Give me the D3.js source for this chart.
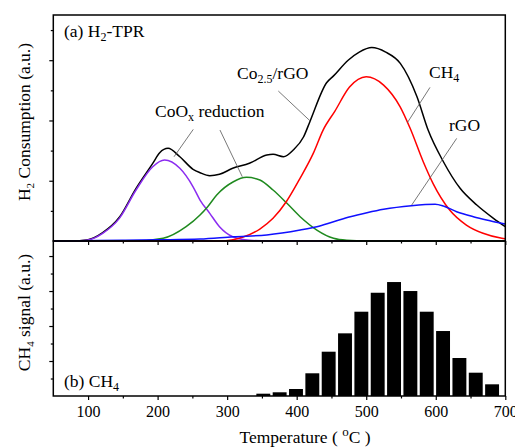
<!DOCTYPE html>
<html>
<head>
<meta charset="utf-8">
<script src="https://cdn.jsdelivr.net/npm/d3@7"></script>
<style>
  body { margin: 0; background: #fff; }
  svg { display: block; font-family: "Liberation Serif", "Times New Roman", serif; }
  .frame { fill: none; stroke: #000; stroke-width: 1.5; }
  .axis path { display: none; }
  .axis line { stroke: #000; stroke-width: 1.2; }
  .curve { fill: none; stroke-width: 1.5; }
  .leader { stroke: #555; stroke-width: 0.8; }
  .lbl { font-size: 17.5px; fill: #000; }
</style>
</head>
<body>
<svg id="chart" width="515" height="448"></svg>
<script>
// H2-TPR profile (a) and its fitted components, [temperature °C, a.u.]
const tprTotal = [[50,0],[88,0.005],[100,0.02],[121,0.138],[145,0.393],[169,0.874],[193,1.289],[203,1.464],
  [215,1.537],[232,1.398],[251,1.189],[261,1.133],[275,1.083],[289,1.106],[308,1.206],[332,1.289],[357,1.426],
  [366,1.438],[381,1.398],[395,1.509],[410,1.73],[419,1.98],[443,2.625],[453,2.74],[474,3.0],[490,3.134],
  [508,3.209],[528,3.134],[549,2.947],[573,2.393],[589,1.841],[611,1.315],[635,0.874],[659,0.597],[683,0.376],[700,0.237]];
const tprCoOx1 = [[50,0],[88,0.005],[100,0.017],[121,0.128],[145,0.376],[169,0.846],[193,1.232],[210,1.343],
  [232,1.206],[251,0.9],[261,0.68],[275,0.459],[289,0.237],[308,0.071],[332,0.012],[360,0],[700,0]];
const tprCoOx2 = [[50,0],[169,0],[208,0.045],[241,0.237],[261,0.431],[272,0.569],[285,0.763],[309,0.983],
  [328,1.056],[347,1.012],[366,0.846],[386,0.625],[405,0.403],[429,0.182],[453,0.045],[472,0.012],[500,0],[700,0]];
const tprCH4 = [[50,0],[290,0],[323,0.066],[347,0.199],[366,0.376],[385,0.652],[405,1.045],[424,1.459],[438,1.841],
  [455,2.156],[476,2.554],[500,2.725],[525,2.587],[549,2.222],[563,1.874],[582,1.315],[596,0.957],[620,0.514],
  [644,0.265],[668,0.128],[695,0.045],[700,0.036]];
const tprRGO = [[50,0],[100,0.005],[150,0.012],[200,0.02],[261,0.033],[309,0.071],[357,0.1],[405,0.182],[429,0.237],
  [453,0.32],[477,0.403],[501,0.469],[525,0.526],[565,0.585],[599,0.609],[611,0.58],[630,0.486],[654,0.403],
  [678,0.337],[700,0.282]];

// CH4 signal (b)
const ch4Temp = [352, 375.5, 399, 422.5, 446, 469.5, 493, 516.5, 540, 563.5, 587, 610.5, 634, 657.5, 681];
const ch4Signal = [0.066, 0.106, 0.2, 0.649, 1.266, 1.791, 2.409, 2.951, 3.257, 3.0, 2.409, 1.857, 1.086, 0.666, 0.334];

const xTicks = [100, 200, 300, 400, 500, 600, 700];
const xMinor = [150, 250, 350, 450, 550, 650];

const svg = d3.select('#chart');
const mLeft = 53.3, mRight = 505.3, mTop = 15, mMid = 241, mBottom = 396;

const x = d3.scaleLinear().domain([50, 700]).range([mLeft, mRight]);
const yTop = d3.scaleLinear().domain([0, 3.75]).range([mMid, mTop]);
const yBot = d3.scaleLinear().domain([0, 4.43]).range([mBottom, mMid]);

// ticks
function xAxis(yPos, labels) {
  svg.append('g').attr('class', 'axis').attr('transform', `translate(0,${yPos})`)
    .call(d3.axisBottom(x).tickValues(xMinor).tickSize(2.5).tickFormat(''));
  let g = svg.append('g').attr('class', 'axis').attr('transform', `translate(0,${yPos})`)
    .call(d3.axisBottom(x).tickValues(xTicks).tickSize(4).tickPadding(6).tickFormat(labels ? d3.format('d') : ''));
  g.attr('font-family', '"Liberation Serif", serif').attr('font-size', 16);
  g.selectAll('text').attr('dy', '0.71em').attr('fill', '#000');
}
xAxis(mMid, false);
xAxis(mBottom, true);

function yAxis(scale, maxV) {
  let majors = d3.range(1, maxV + 0.01, 1);
  let minors = d3.range(0.5, maxV, 1);
  svg.append('g').attr('class', 'axis').attr('transform', `translate(${mLeft},0)`)
    .call(d3.axisLeft(scale).tickValues(majors).tickSize(4).tickFormat(''));
  svg.append('g').attr('class', 'axis').attr('transform', `translate(${mLeft},0)`)
    .call(d3.axisLeft(scale).tickValues(minors).tickSize(2.5).tickFormat(''));
}
yAxis(yTop, 3.75);
yAxis(yBot, 4.43);

// curves (top)
const line = d3.line().x(d => x(d[0])).y(d => yTop(d[1])).curve(d3.curveMonotoneX);
const series = [
  {data: tprTotal, color: '#000000'},
  {data: tprCoOx1, color: '#8b2cf0'},
  {data: tprCoOx2, color: '#1f8a1f'},
  {data: tprCH4, color: '#ff0000'},
  {data: tprRGO, color: '#1010ff'}
];
svg.selectAll('path.curve').data(series).enter().append('path')
  .attr('class', 'curve')
  .attr('stroke', d => d.color)
  .attr('d', d => line(d.data));

// bars (bottom)
const barW = 20;
svg.selectAll('rect.bar').data(ch4Temp).enter().append('rect')
  .attr('class', 'bar')
  .attr('x', t => x(t - barW / 2))
  .attr('width', t => x(t + barW / 2) - x(t - barW / 2))
  .attr('y', (t, i) => yBot(ch4Signal[i]))
  .attr('height', (t, i) => yBot(0) - yBot(ch4Signal[i]))
  .attr('fill', '#000');

// frames
svg.append('rect').attr('class', 'frame').attr('x', mLeft).attr('y', mTop).attr('width', mRight - mLeft).attr('height', mMid - mTop);
svg.append('rect').attr('class', 'frame').attr('x', mLeft).attr('y', mMid).attr('width', mRight - mLeft).attr('height', mBottom - mMid);

// text with subscripts: {s: '..'} parts drop 4px in a smaller size
function richText(t, parts, subSize) {
  let shift = 0;
  parts.forEach(p => {
    if (typeof p === 'object') {
      t.append('tspan').attr('font-size', subSize).attr('dy', 4).text(p.s);
      shift = -4;
    } else {
      let ts = t.append('tspan').text(p);
      if (shift) ts.attr('dy', shift);
      shift = 0;
    }
  });
  return t;
}
function label(parts, px, py) {
  let t = svg.append('text').attr('class', 'lbl').attr('x', px).attr('y', py);
  return richText(t, parts, '12px');
}

const topLabels = [
  {parts: ['(a) H', {s: '2'}, '-TPR'], at: [65.4, 3.383]},
  {parts: ['CoO', {s: 'x'}, ' reduction'], at: [196.2, 2.056]},
  {parts: ['Co', {s: '2.5'}, '/rGO'], at: [314.2, 2.687]},
  {parts: ['CH', {s: '4'}], at: [590.3, 2.698]},
  {parts: ['rGO'], at: [619, 1.824]}
];
topLabels.forEach(l => label(l.parts, x(l.at[0]), yTop(l.at[1])));
label(['(b) CH', {s: '4'}], x(65.4), yBot(0.266));

const leaders = [
  [[251.3, 1.852], [223.6, 1.398]],
  [[289.7, 1.841], [321.8, 1.066]],
  [[373.6, 2.488], [419.1, 1.995]],
  [[591.7, 2.549], [559.1, 1.962]],
  [[630.1, 1.703], [565.4, 0.597]]
];
svg.selectAll('line.leader').data(leaders).enter().append('line')
  .attr('class', 'leader')
  .attr('x1', d => x(d[0][0])).attr('y1', d => yTop(d[0][1]))
  .attr('x2', d => x(d[1][0])).attr('y2', d => yTop(d[1][1]));

// axis titles
const xt = svg.append('text').attr('class', 'lbl').attr('font-size', '19.5px')
  .attr('x', 305).attr('y', 443).attr('text-anchor', 'middle');
xt.append('tspan').text('Temperature ( ');
xt.append('tspan').attr('font-size', '13px').attr('dy', -7).text('o');
xt.append('tspan').attr('dy', 7).text('C )');

const yt1 = svg.append('text').attr('class', 'lbl').attr('font-size', '17px')
  .attr('transform', `translate(30,122) rotate(-90)`).attr('text-anchor', 'middle');
richText(yt1, ['H', {s: '2'}, ' Consumption (a.u.)'], '11px');

const yt2 = svg.append('text').attr('class', 'lbl').attr('font-size', '17px')
  .attr('transform', `translate(30,${(mMid + mBottom) / 2 - 6}) rotate(-90)`).attr('text-anchor', 'middle');
richText(yt2, ['CH', {s: '4'}, ' signal (a.u.)'], '11px');
</script>
</body>
</html>
